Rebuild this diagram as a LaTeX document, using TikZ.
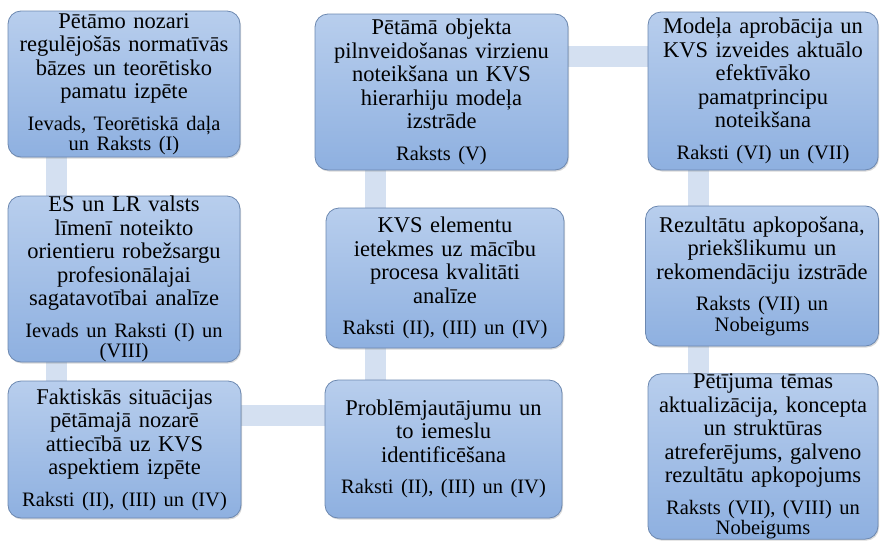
\documentclass[tikz,border=0pt]{standalone}
\usepackage{fontspec}
\setmainfont{Liberation Serif}
\usetikzlibrary{backgrounds,shadows}
\definecolor{boxtop}{RGB}{184,206,237}
\definecolor{boxbot}{RGB}{142,176,224}
\definecolor{boxline}{RGB}{108,136,176}
\definecolor{linkfill}{RGB}{212,224,241}
\newcommand{\stagerefs}[1]{\par\vspace{11pt}{\fontsize{20.5}{20.5}\selectfont #1\par}}

\begin{document}
\begin{tikzpicture}[x=1pt,y=-1pt,
    stage/.style ={rectangle, rounded corners=13pt, draw=boxline, line width=0.8pt,
        top color=boxtop, bottom color=boxbot, inner sep=0pt, text width=222pt,
        align=center, font=\rmfamily\fontsize{22.5}{23.5}\selectfont,
        drop shadow={shadow xshift=1pt, shadow yshift=-1.5pt, opacity=.3}},
    link/.style ={draw=linkfill, line width=21pt}]
   \useasboundingbox (0,0) rectangle (880,541);
   % left column
   \node[stage, minimum width=232pt, minimum height=146pt] (B1) at (124,84)
     {Pētāmo nozari\\ regulējošās normatīvās\\ bāzes un teorētisko\\ pamatu izpēte
      \stagerefs{Ievads, Teorētiskā daļa\\ un Raksts (I)}};
   \node[stage, minimum width=232pt, minimum height=166pt] (B4) at (124,279)
     {ES un LR valsts\\ līmenī noteikto\\ orientieru robežsargu\\ profesionālajai\\ sagatavotībai analīze
      \stagerefs{Ievads un Raksti (I) un\\ (VIII)}};
   \node[stage, minimum width=233pt, minimum height=137pt] (B7) at (124.5,449.5)
     {Faktiskās situācijas\\ pētāmajā nozarē\\ attiecībā uz KVS\\ aspektiem izpēte
      \stagerefs{Raksti (II), (III) un (IV)}};
   % middle column
   \node[stage, minimum width=253pt, minimum height=156pt] (B2) at (441.5,92)
     {Pētāmā objekta\\ pilnveidošanas virzienu\\ noteikšana un KVS\\ hierarhiju modeļa\\ izstrāde
      \stagerefs{Raksts (V)}};
   \node[stage, minimum width=238pt, minimum height=140pt] (B5) at (445,278)
     {KVS elementu\\ ietekmes uz mācību\\ procesa kvalitāti\\ analīze
      \stagerefs{Raksti (II), (III) un (IV)}};
   \node[stage, minimum width=237pt, minimum height=138pt] (B8) at (443.5,449)
     {Problēmjautājumu un\\ to iemeslu\\ identificēšana
      \stagerefs{Raksti (II), (III) un (IV)}};
   % right column
   \node[stage, minimum width=230pt, minimum height=158pt] (B3) at (763,91)
     {Modeļa aprobācija un\\ KVS izveides aktuālo\\ efektīvāko\\ pamatprincipu\\ noteikšana
      \stagerefs{Raksti (VI) un (VII)}};
   \node[stage, minimum width=233pt, minimum height=140pt] (B6) at (762,276)
     {Rezultātu apkopošana,\\ priekšlikumu un\\ rekomendāciju izstrāde
      \stagerefs{Raksts (VII) un\\ Nobeigums}};
   \node[stage, minimum width=230pt, minimum height=163pt] (B9) at (763,456.5)
     {Pētījuma tēmas\\ aktualizācija, koncepta\\ un struktūras\\ atreferējums, galveno\\ rezultātu apkopojums
      \stagerefs{Raksts (VII), (VIII) un\\ Nobeigums}};
   % connecting bars
   \coordinate (colL) at (56.5,0);
   \coordinate (colM) at (375.5,0);
   \coordinate (colR) at (698,0);
   \coordinate (rowT) at (0,56.5);
   \coordinate (rowB) at (0,415);
   \begin{scope}[on background layer]
   \draw[link] (B1.south -| colL) -- (B4.north -| colL);
   \draw[link] (B4.south -| colL) -- (B7.north -| colL);
   \draw[link] (B7.east |- rowB) -- (B8.west |- rowB);
   \draw[link] (B8.north -| colM) -- (B5.south -| colM);
   \draw[link] (B5.north -| colM) -- (B2.south -| colM);
   \draw[link] (B2.east |- rowT) -- (B3.west |- rowT);
   \draw[link] (B3.south -| colR) -- (B6.north -| colR);
   \draw[link] (B6.south -| colR) -- (B9.north -| colR);
   \end{scope}
\end{tikzpicture}
\end{document}
